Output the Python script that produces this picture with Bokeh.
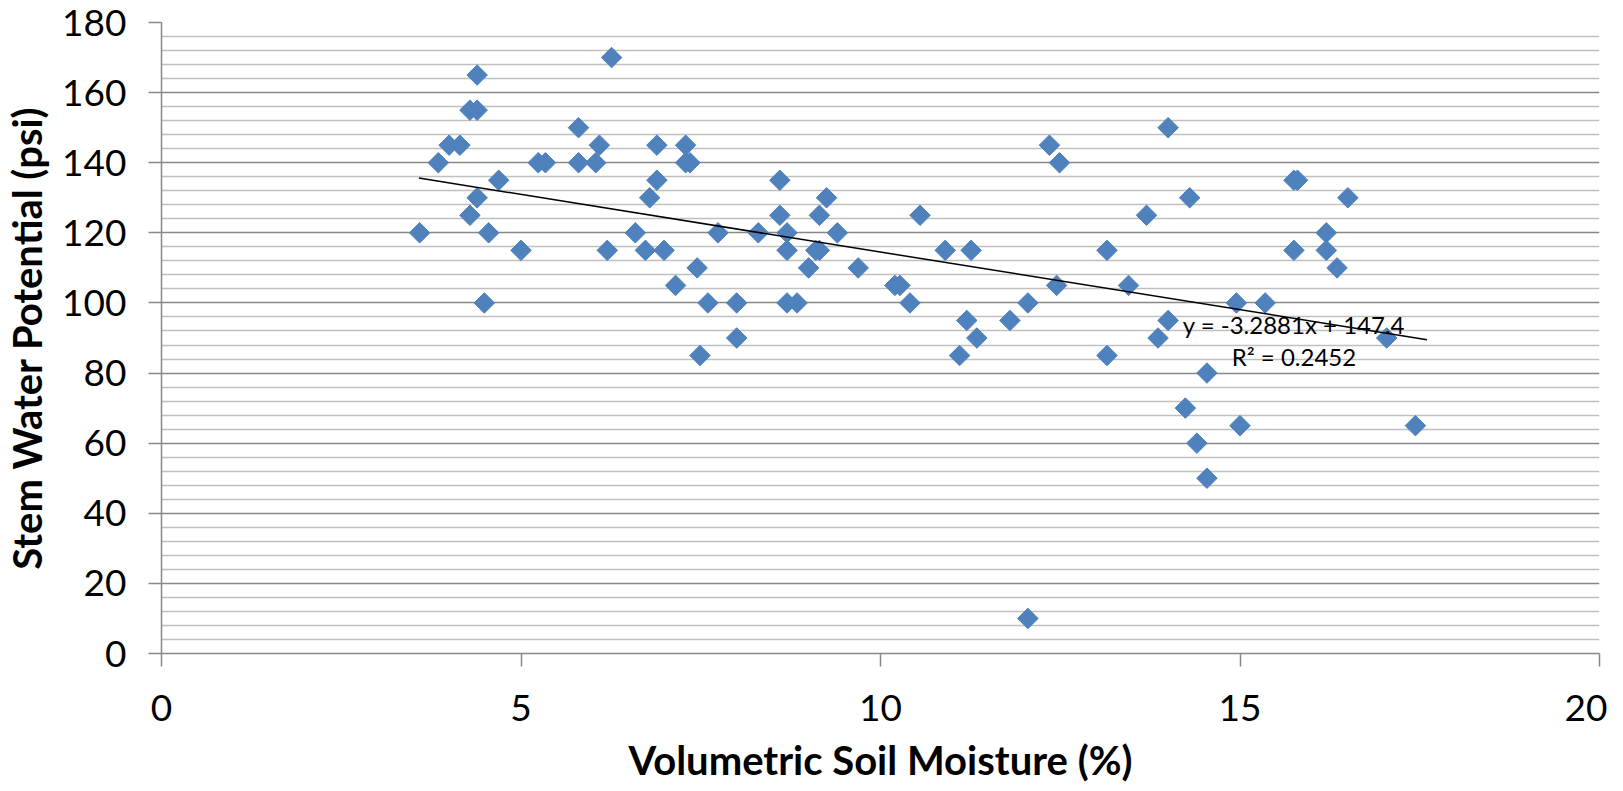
import numpy as np
from bokeh.plotting import figure
from bokeh.models import Range1d, FixedTicker, Label
from bokeh.embed import file_html
from bokeh.resources import INLINE

# ---- data ----
soil_moisture = [3.59, 3.85, 4.0, 4.15, 4.29, 4.39, 4.39, 4.39, 4.29, 4.55,
                 4.49, 4.69, 5.0, 5.24, 5.34, 5.8, 5.8, 6.04, 6.09, 6.26,
                 6.2, 6.59, 6.73, 6.79, 6.89, 6.89, 6.99, 7.15, 7.29, 7.29,
                 7.35, 7.45, 7.49, 7.6, 7.74, 8.0, 8.0, 8.3, 8.6, 8.6,
                 8.7, 8.7, 8.7, 8.84, 9.0, 9.1, 9.15, 9.15, 9.25, 9.4,
                 9.69, 10.2, 10.27, 10.41, 10.55, 10.9, 11.1, 11.2, 11.26, 11.34,
                 11.8, 12.05, 12.05, 12.35, 12.49, 12.45, 13.15, 13.15, 13.45, 13.7,
                 13.86, 14.0, 14.0, 14.3, 14.24, 14.4, 14.54, 14.54, 14.95, 15.0,
                 15.35, 15.75, 15.75, 15.8, 16.2, 16.2, 16.35, 16.5, 17.04, 17.44]
stem_water_potential = [120, 140, 145, 145, 155, 155, 165, 130, 125, 120,
                        100, 135, 115, 140, 140, 150, 140, 140, 145, 170,
                        115, 120, 115, 130, 145, 135, 115, 105, 145, 140,
                        140, 110, 85, 100, 120, 100, 90, 120, 135, 125,
                        120, 115, 100, 100, 110, 115, 115, 125, 130, 120,
                        110, 105, 105, 100, 125, 115, 85, 95, 115, 90,
                        95, 100, 10, 145, 140, 105, 115, 85, 105, 125,
                        90, 95, 150, 130, 70, 60, 80, 50, 100, 65,
                        100, 115, 135, 135, 120, 115, 110, 130, 90, 65]
trend_slope = -3.2881
trend_intercept = 147.4
r_squared = 0.2452
trend_x = [3.58, 17.6]
x_ticks = [0, 5, 10, 15, 20]
y_ticks = list(range(0, 181, 20))
y_minor_ticks = [v for v in range(0, 181, 4) if v % 20 != 0]

trend_y = [trend_slope * xv + trend_intercept for xv in trend_x]

FONT = "Lato"
GRID_MAJOR = "#888888"
GRID_MINOR = "#C0C0C0"

p = figure(width=1607, height=786, output_backend="svg", toolbar_location=None,
           x_range=Range1d(0, 20), y_range=Range1d(0, 180),
           min_border_left=151, min_border_right=8,
           min_border_top=22, min_border_bottom=131)
p.outline_line_color = None
p.background_fill_color = "white"
p.border_fill_color = "white"

p.xaxis.ticker = FixedTicker(ticks=x_ticks)
p.yaxis.ticker = FixedTicker(ticks=y_ticks, minor_ticks=y_minor_ticks)

for ax in (p.xaxis[0], p.yaxis[0]):
    ax.axis_line_color = GRID_MAJOR
    ax.axis_line_width = 1.5
    ax.major_tick_line_color = GRID_MAJOR
    ax.major_tick_line_width = 1.5
    ax.major_tick_out = 13
    ax.major_tick_in = 0
    ax.minor_tick_line_color = None
    ax.major_label_text_font = FONT
    ax.major_label_text_font_size = "37px"
    ax.major_label_text_color = "black"
    ax.axis_label_text_font = FONT
    ax.axis_label_text_font_style = "bold"
    ax.axis_label_text_font_size = "40px"
    ax.axis_label_text_color = "black"

p.xaxis.axis_label = "Volumetric Soil Moisture (%)"
p.yaxis.axis_label = "Stem Water Potential (psi)"
p.xaxis.major_label_standoff = 28
p.xaxis.axis_label_standoff = 12
p.yaxis.major_label_standoff = 22
p.yaxis.axis_label_standoff = 8

p.xgrid.grid_line_color = None
p.ygrid.grid_line_color = GRID_MAJOR
p.ygrid.grid_line_width = 1.5
p.ygrid.minor_grid_line_color = GRID_MINOR
p.ygrid.minor_grid_line_width = 1.5

p.scatter(soil_moisture, stem_water_potential, marker="square", size=14.5,
          angle=np.pi / 4, fill_color="#4F81BD", line_color="#4F81BD")
p.line(trend_x, trend_y, line_color="black", line_width=1.5)

eq_text = f"y = {trend_slope}x + {trend_intercept}"
r2_text = f"R\u00b2 = {r_squared}"
p.add_layout(Label(x=15.75, y=93.8, text=eq_text, text_align="center",
                   text_baseline="middle", text_font=FONT,
                   text_font_size="24px", text_color="black"))
p.add_layout(Label(x=15.75, y=84.6, text=r2_text, text_align="center",
                   text_baseline="middle", text_font=FONT,
                   text_font_size="24px", text_color="black"))

open("out.html", "w").write(file_html(p, INLINE))
